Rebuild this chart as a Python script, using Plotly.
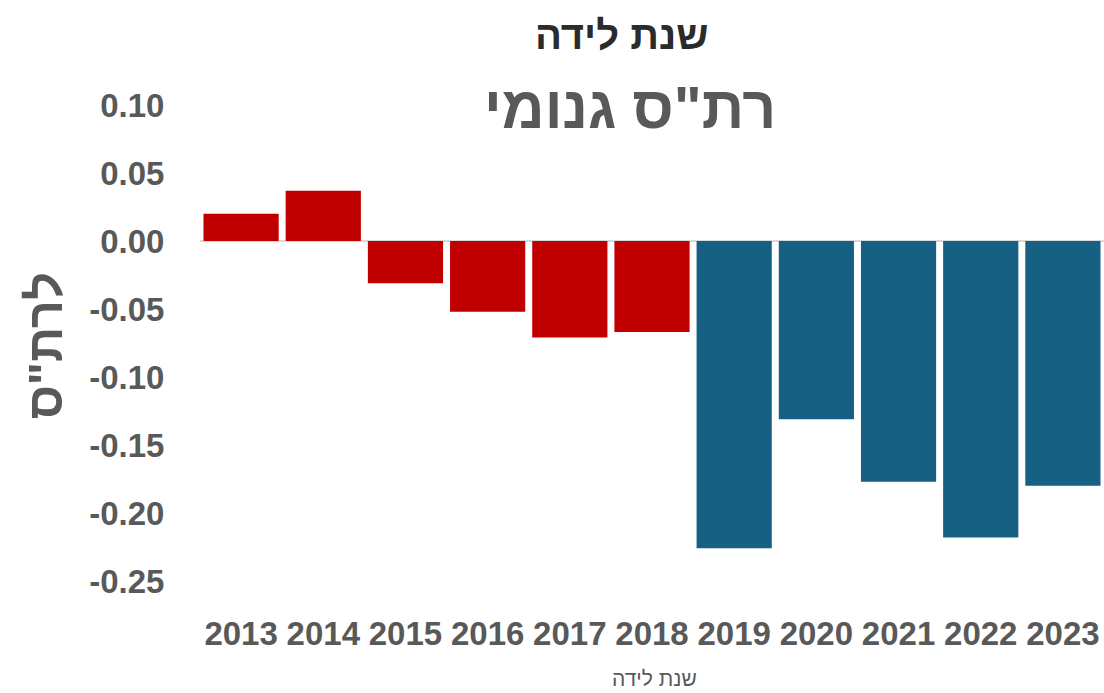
import plotly.graph_objects as go

years = ["2013", "2014", "2015", "2016", "2017", "2018", "2019", "2020", "2021", "2022", "2023"]
values = [0.020, 0.037, -0.031, -0.052, -0.071, -0.067, -0.226, -0.131, -0.177, -0.218, -0.180]
colors = ["#C00000"] * 6 + ["#166083"] * 5
y_ticks = [0.10, 0.05, 0.00, -0.05, -0.10, -0.15, -0.20, -0.25]
y_tick_labels = ["0.10", "0.05", "0.00", "-0.05", "-0.10", "-0.15", "-0.20", "-0.25"]

FONT = "Liberation Sans, Open Sans, DejaVu Sans, sans-serif"
GRAY = "#595959"

fig = go.Figure(go.Bar(x=years, y=values, marker=dict(color=colors, line=dict(width=0)),
                       showlegend=False, hoverinfo="skip"))

fig.update_layout(
    width=1104, height=693,
    margin=dict(l=200, r=0, t=105, b=112),
    paper_bgcolor="white", plot_bgcolor="white",
    bargap=0.085,
    font=dict(family=FONT, color=GRAY),
    xaxis=dict(
        type="category", showgrid=False, showline=False, zeroline=False,
        ticks="outside", ticklen=23, tickcolor="rgba(0,0,0,0)",
        tickfont=dict(family=FONT, size=33, color=GRAY, weight="bold"),
    ),
    yaxis=dict(
        range=[-0.25, 0.10], tickvals=y_ticks, ticktext=y_tick_labels,
        showgrid=False, showline=False,
        zeroline=True, zerolinecolor="#d9d9d9", zerolinewidth=2,
        ticks="outside", ticklen=28, tickcolor="rgba(0,0,0,0)",
        tickfont=dict(family=FONT, size=33, color=GRAY, weight="bold"),
    ),
    annotations=[
        dict(text="שנת לידה", xref="paper", yref="paper", x=0.466, y=1.147,
             showarrow=False, xanchor="center", yanchor="middle",
             font=dict(family=FONT, size=40, color="#2b2b2b", weight="bold")),
        dict(text='רת"ס גנומי', xref="paper", yref="paper", x=0.476, y=0.994,
             showarrow=False, xanchor="center", yanchor="middle",
             font=dict(family=FONT, size=59, color=GRAY, weight="bold")),
        dict(text='לרת"ס', xref="paper", yref="paper", x=-0.172, y=0.494,
             showarrow=False, xanchor="center", yanchor="middle", textangle=-90,
             font=dict(family=FONT, size=49, color=GRAY, weight="bold")),
        dict(text="שנת לידה", xref="paper", yref="paper", x=0.503, y=-0.204,
             showarrow=False, xanchor="center", yanchor="middle",
             font=dict(family=FONT, size=21, color=GRAY)),
    ],
)

fig.write_html(
    "out.html",
    config={"displayModeBar": False},
    post_script="document.body.style.margin='0';document.body.style.overflow='hidden';",
)
